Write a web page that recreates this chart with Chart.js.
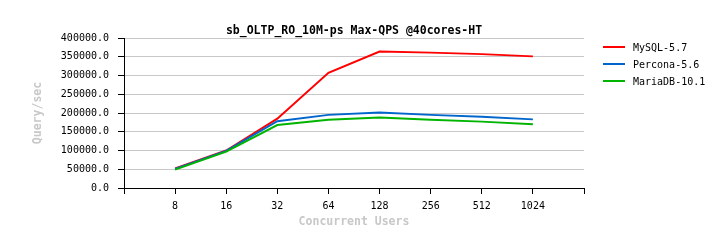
<!DOCTYPE html>
<html>
<head>
<meta charset="utf-8">
<script src="https://cdn.jsdelivr.net/npm/chart.js@4"></script>
<style>
  html, body { margin: 0; padding: 0; background: #fff; }
  #wrap { width: 725px; height: 248px; }
</style>
</head>
<body>
<div id="wrap"><canvas id="qps" width="725" height="248"></canvas></div>
<script>
// blank slots at both ends give the empty first/last tick like the original
const users = ['', '8', '16', '32', '64', '128', '256', '512', '1024', ''];
const mysql57 = [null, 52000, 100000, 185000, 307000, 364000, 361000, 357000, 351000, null];
const percona56 = [null, 51000, 99000, 178000, 195000, 201000, 195000, 190000, 183000, null];
const mariadb101 = [null, 49000, 97000, 168000, 182000, 188000, 182000, 177000, 170000, null];
const yMax = 400000;
const yStep = 50000;

const FONT = '"DejaVu Sans Mono", "Liberation Mono", monospace';

// title, axis titles and legend drawn at fixed pixel spots
const decor = {
  id: 'decor',
  afterDraw(chart) {
    const ctx = chart.ctx;
    const a = chart.chartArea;
    ctx.save();
    ctx.textAlign = 'center';
    ctx.textBaseline = 'middle';
    ctx.fillStyle = '#000';
    ctx.font = 'bold 11.5px ' + FONT;
    ctx.fillText('sb_OLTP_RO_10M-ps Max-QPS @40cores-HT', (a.left + a.right) / 2, 31);

    ctx.fillStyle = '#c8c8c8';
    ctx.fillText('Concurrent Users', (a.left + a.right) / 2, 222);
    ctx.translate(38, (a.top + a.bottom) / 2);
    ctx.rotate(-Math.PI / 2);
    ctx.fillText('Query/sec', 0, 0);
    ctx.restore();

    ctx.save();
    ctx.font = '10px ' + FONT;
    ctx.textBaseline = 'middle';
    ctx.textAlign = 'left';
    chart.data.datasets.forEach((ds, i) => {
      const y = 47 + i * 17;
      ctx.strokeStyle = ds.borderColor;
      ctx.lineWidth = 2;
      ctx.beginPath();
      ctx.moveTo(603, y);
      ctx.lineTo(625, y);
      ctx.stroke();
      ctx.fillStyle = '#000';
      ctx.fillText(ds.label, 633, y + 1);
    });
    ctx.restore();
  }
};

new Chart(document.getElementById('qps'), {
  type: 'line',
  data: {
    labels: users,
    datasets: [
      { label: 'MySQL-5.7', data: mysql57, borderColor: '#ff0000', order: 3 },
      { label: 'Percona-5.6', data: percona56, borderColor: '#0066cc', order: 2 },
      { label: 'MariaDB-10.1', data: mariadb101, borderColor: '#00b400', order: 1 }
    ]
  },
  options: {
    responsive: false,
    animation: false,
    devicePixelRatio: 1,
    layout: { padding: { left: 0, top: 38, right: 141, bottom: 0 } },
    elements: {
      line: { borderWidth: 2, tension: 0, fill: false },
      point: { radius: 0, hoverRadius: 0 }
    },
    plugins: {
      legend: { display: false },
      title: { display: false },
      tooltip: { enabled: false }
    },
    scales: {
      x: {
        type: 'category',
        offset: false,
        afterFit: s => { s.height = 60; },
        grid: { drawOnChartArea: false, tickLength: 6, tickColor: '#000' },
        border: { color: '#000', width: 1 },
        ticks: {
          autoSkip: false, maxRotation: 0, padding: 6,
          color: '#000', font: { family: FONT, size: 10 }
        }
      },
      y: {
        min: 0,
        max: yMax,
        afterFit: s => { s.width = 124; },
        grid: { color: '#c8c8c8', tickLength: 6, tickColor: '#000' },
        border: { color: '#000', width: 1 },
        ticks: {
          stepSize: yStep, padding: 9,
          color: '#000', font: { family: FONT, size: 10 },
          callback: v => v.toFixed(1)
        }
      }
    }
  },
  plugins: [decor]
});
</script>
</body>
</html>
